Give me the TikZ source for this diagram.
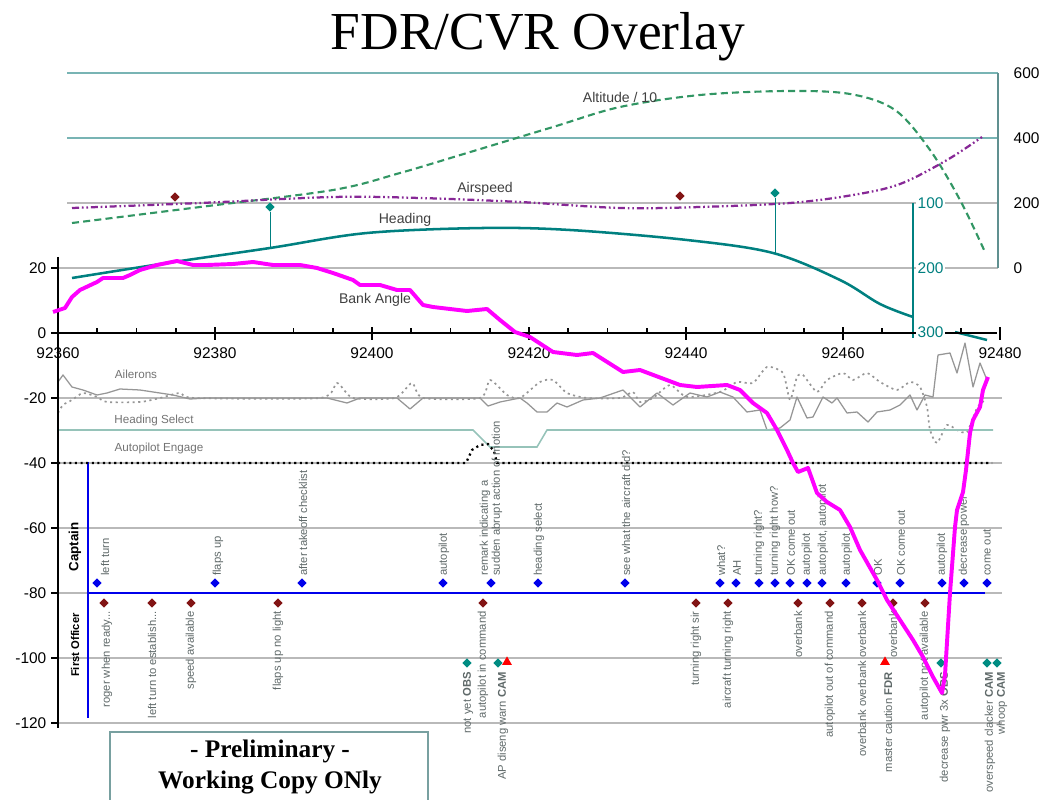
\documentclass[tikz,border=0pt]{standalone}
\usepackage{fontspec}
\setmainfont{Liberation Serif}
\setsansfont{Liberation Sans}
\usetikzlibrary{shapes.geometric}

\definecolor{bankc}{RGB}{255,0,255}
\definecolor{headc}{RGB}{0,128,128}
\definecolor{altc}{RGB}{50,150,100}
\definecolor{spdc}{RGB}{135,40,150}
\definecolor{gridc}{RGB}{185,185,185}
\definecolor{tealgrid}{RGB}{120,180,180}
\definecolor{ailc}{RGB}{150,150,150}
\definecolor{hselc}{RGB}{150,195,185}
\definecolor{cptc}{RGB}{0,0,235}
\definecolor{foc}{RGB}{130,20,20}
\definecolor{obsc}{RGB}{0,140,130}
\definecolor{lblc}{RGB}{95,105,105}
\definecolor{boxc}{RGB}{120,160,160}

\begin{document}
\begin{tikzpicture}[x=0.025cm, y=-0.025cm,
  cpt/.style={diamond, fill=cptc, inner sep=0pt, minimum size=6.8pt},
  fo/.style={diamond, fill=foc, inner sep=0pt, minimum size=6.8pt},
  obs/.style={diamond, fill=obsc, inner sep=0pt, minimum size=6.8pt},
  warn/.style={regular polygon, regular polygon sides=3, fill=red, inner sep=0pt, minimum size=8pt},
  cptlbl/.style={rotate=90, anchor=west, inner sep=0pt, font=\fontsize{8}{8.5}\selectfont\sffamily, text=lblc, align=left},
  folbl/.style={rotate=90, anchor=east, inner sep=0pt, font=\fontsize{8}{8.5}\selectfont\sffamily, text=lblc},
  axlbl/.style={font=\fontsize{11}{12}\selectfont\sffamily, inner sep=1pt},
  serlbl/.style={font=\fontsize{10}{11}\selectfont\sffamily, text=black!75},
  chlbl/.style={font=\fontsize{8.3}{9}\selectfont\sffamily, text=black!55},
  hdglbl/.style={font=\fontsize{11}{12}\selectfont\sffamily, text=headc, fill=white, inner sep=1pt, anchor=west},
  grid/.style={gridc, line width=0.9pt},
  axis/.style={black, line width=1.5pt}]
\useasboundingbox (0,0) rectangle (1045,800);

\path (538,50) node[anchor=base, font=\fontsize{38}{40}\selectfont] (title) {FDR/CVR Overlay};

% upper chart gridlines and right axis
\draw[tealgrid, line width=1.1pt] (67,73) -- (998,73);
\draw[tealgrid, line width=1.1pt] (67,138) -- (998,138);
\draw[grid] (67,203) -- (998,203);
\draw[grid] (58,268) -- (998,268);
\draw[tealgrid!80!black, line width=1.2pt] (998,73) -- (998,268);
\foreach \yy/\v in {73/600, 138/400, 203/200, 268/0}
  \path (1012,\yy) node[axlbl, anchor=west] (r\v) {\v};

% lower chart gridlines
\foreach \yy in {398,463,528,593,658,723}
  \draw[grid] (58,\yy) -- (1002,\yy);
\draw[cptc, line width=1.2pt] (88,462) -- (88,718);
\draw[cptc, line width=1.2pt] (88,593) -- (985,593);

% series in the upper chart
\draw[altc, line width=1.5pt, dash pattern=on 5pt off 3pt] plot[smooth, tension=0.55] coordinates {(72,223) (200,207) (333,190) (400,173) (467,153) (553,127) (620,107) (700,95) (787,91) (850,94) (895,110) (930,150) (960,200) (985,252)};
\draw[spdc, line width=1.6pt, dash pattern=on 5pt off 2pt on 1.2pt off 2pt on 1.2pt off 2pt] plot[smooth, tension=0.55] coordinates {(72,208) (200,203) (333,197) (420,198) (520,202) (620,208) (700,207) (790,203) (853,195) (900,184) (947,160) (982,137)};
\draw[headc, line width=1.8pt] plot[smooth, tension=0.55] coordinates {(72,278) (167,263) (270,248) (367,233) (483,228) (570,230) (687,240) (773,253) (840,280) (880,304) (913,317)};
\draw[headc, line width=1.8pt] plot[smooth] coordinates {(955,332) (967,335) (987,340)};

\path (175,197) node[fo] (spd1) {};
\path (680,196) node[fo] (spd2) {};
\path (270,207) node[obs] (hdg1) {};
\path (775,193) node[obs] (hdg2) {};
\coordinate (hdg1end) at (270,248);
\coordinate (hdg2end) at (775,254);
\draw[headc, line width=0.6pt] (hdg1) -- (hdg1end);
\draw[headc, line width=0.6pt] (hdg2) -- (hdg2end);

\path (620,97) node[serlbl] (altname) {Altitude / 10};
\path (485,189) node[serlbl] (spdname) {Airspeed};
\path (405,220) node[serlbl] (hdgname) {Heading};
\path (375,300) node[serlbl] (bankname) {Bank Angle};

% heading axis
\draw[headc, line width=1.5pt] (913,203) -- (913,338);
\path (916,203) node[hdglbl] (h100) {100};
\path (916,268) node[hdglbl] (h200) {200};

% ailerons, heading select, autopilot engage
\draw[ailc, line width=0.9pt, line join=round] (58,382) -- (63,375) -- (72,387) -- (83,390) -- (97,395) -- (107,393) -- (120,389) -- (140,390) -- (173,395) -- (190,399) -- (207,398) -- (327,398) -- (347,403) -- (360,398) -- (397,398) -- (410,409) -- (423,398) -- (480,398) -- (488,406) -- (500,402) -- (520,398) -- (527,403) -- (537,412) -- (547,412) -- (557,403) -- (567,407) -- (583,400) -- (600,398) -- (623,390) -- (640,407) -- (657,393) -- (673,405) -- (690,393) -- (707,397) -- (720,392) -- (733,397) -- (747,412) -- (760,410) -- (767,430) -- (780,428) -- (790,420) -- (797,397) -- (807,418) -- (813,417) -- (823,397) -- (832,403) -- (837,398) -- (847,413) -- (857,412) -- (868,422) -- (877,412) -- (890,410) -- (900,405) -- (910,395) -- (917,410) -- (925,395) -- (933,397) -- (938,355) -- (950,353) -- (957,373) -- (965,343) -- (973,387) -- (980,363) -- (987,380);
\draw[ailc, line width=1.2pt, dash pattern=on 1.5pt off 2.5pt] plot[smooth, tension=0.4] coordinates {(58,413) (63,405) (72,400) (83,393) (97,397) (107,402) (140,402) (160,398) (180,393) (195,398) (320,398) (337,383) (353,398) (395,398) (412,383) (423,398) (480,398) (490,380) (507,395) (520,398) (540,382) (553,380) (567,393) (587,398) (620,398) (633,392) (640,402) (653,398) (670,385) (687,397) (720,392) (737,382) (753,383) (767,367) (783,373) (790,400) (797,377) (803,375) (817,392) (827,380) (843,373) (853,380) (867,373) (880,382) (897,390) (910,382) (920,387) (927,407) (930,430) (937,443) (947,425) (957,430) (967,432) (977,408) (985,400)};
\draw[hselc, line width=1.1pt] (58,430) -- (473,430) -- (490,447) -- (537,447) -- (547,430) -- (993,430);
\draw[black, line width=1.6pt, dash pattern=on 1.5pt off 2.5pt] (58,463) -- (466,463) -- (472,450) -- (480,445) -- (488,444) -- (494,451) -- (497,463) -- (992,463);
\path (136,374) node[chlbl] (ailname) {Ailerons};
\path (154,420) node[chlbl] (hselname) {Heading Select};
\path (159,448) node[chlbl] (apname) {Autopilot Engage};

% axes
\draw[axis] (58,257) -- (58,728);
\draw[axis] (58,333) -- (997,333);
\foreach \yy/\v in {268/20, 333/0, 398/-20, 463/-40, 528/-60, 593/-80, 658/-100, 723/-120} {
  \draw[axis] (51,\yy) -- (58,\yy);
  \path (48,\yy) node[axlbl, anchor=east] (l\yy) {\v};
}
\foreach \i in {0,...,24}
  \draw[black, line width=1.2pt] (58+\i*39.25,333) -- ++(0,-5);
\foreach \i/\t in {0/92360, 1/92380, 2/92400, 3/92420, 4/92440, 5/92460, 6/92480} {
  \draw[axis] (58+\i*157,327) -- ++(0,13);
  \path (58+\i*157,353) node[axlbl] (x\t) {\t};
}
\path (916,332) node[hdglbl] (h300) {300};

% crew labels
\path (75,547) node[rotate=90, font=\fontsize{9.5}{10}\selectfont\sffamily\bfseries] (captain) {Captain};
\path (75,645) node[rotate=90, font=\fontsize{8}{9}\selectfont\sffamily\bfseries] (firstofficer) {First Officer};

% captain remarks
\path (97,583) node[cpt] (c1) {} (105,576) node[cptlbl] (cl1) {left turn};
\path (215,583) node[cpt] (c2) {} (218,576) node[cptlbl] (cl2) {flaps up};
\path (302,583) node[cpt] (c3) {} (303,576) node[cptlbl] (cl3) {after takeoff checklist};
\path (443,583) node[cpt] (c4) {} (444,576) node[cptlbl] (cl4) {autopilot};
\path (491,583) node[cpt] (c5) {} (491,576) node[cptlbl] (cl5) {remark indicating a\\sudden abrupt action of motion};
\path (538,583) node[cpt] (c6) {} (539,576) node[cptlbl] (cl6) {heading select};
\path (625,583) node[cpt] (c7) {} (626,576) node[cptlbl] (cl7) {see what the aircraft did?};
\path (720,583) node[cpt] (c8) {} (721,576) node[cptlbl] (cl8) {what?};
\path (736,583) node[cpt] (c9) {} (737,576) node[cptlbl] (cl9) {AH};
\path (759,583) node[cpt] (c10) {} (759,576) node[cptlbl] (cl10) {turning right?};
\path (775,583) node[cpt] (c11) {} (775,576) node[cptlbl] (cl11) {turning right how?};
\path (790,583) node[cpt] (c12) {} (791,576) node[cptlbl] (cl12) {OK come out};
\path (807,583) node[cpt] (c13) {} (807,576) node[cptlbl] (cl13) {autopilot};
\path (822,583) node[cpt] (c14) {} (823,576) node[cptlbl] (cl14) {autopilot, autopilot};
\path (846,583) node[cpt] (c15) {} (847,576) node[cptlbl] (cl15) {autopilot};
\path (877,583) node[cpt] (c16) {} (878,576) node[cptlbl] (cl16) {OK};
\path (900,583) node[cpt] (c17) {} (901,576) node[cptlbl] (cl17) {OK come out};
\path (942,583) node[cpt] (c18) {} (942,576) node[cptlbl] (cl18) {autopilot};
\path (964,583) node[cpt] (c19) {} (964,576) node[cptlbl] (cl19) {decrease power};
\path (987,583) node[cpt] (c20) {} (987,576) node[cptlbl] (cl20) {come out};

% first officer remarks
\path (104,603) node[fo] (f1) {} (107,611) node[folbl] (fl1) {roger when ready...};
\path (152,603) node[fo] (f2) {} (152,611) node[folbl] (fl2) {left turn to establish...};
\path (191,603) node[fo] (f3) {} (191,611) node[folbl] (fl3) {speed available};
\path (278,603) node[fo] (f4) {} (278,611) node[folbl] (fl4) {flaps up no light};
\path (483,603) node[fo] (f5) {} (483,611) node[folbl] (fl5) {autopilot in command};
\path (696,603) node[fo] (f6) {} (696,611) node[folbl] (fl6) {turning right sir};
\path (728,603) node[fo] (f7) {} (728,611) node[folbl] (fl7) {aircraft turning right};
\path (798,603) node[fo] (f8) {} (798,611) node[folbl] (fl8) {overbank};
\path (830,603) node[fo] (f9) {} (830,611) node[folbl] (fl9) {autopilot out of command};
\path (862,603) node[fo] (f10) {} (862,611) node[folbl] (fl10) {overbank overbank overbank};
\path (893,603) node[fo] (f11) {} (893,611) node[folbl] (fl11) {overbank};
\path (925,603) node[fo] (f12) {} (925,611) node[folbl] (fl12) {autopilot not available};

% observer, area mic and FDR events
\path (467,663) node[obs] (o1) {} (468,672) node[folbl] (ol1) {not yet \textbf{OBS}};
\path (498,663) node[obs] (o2) {} (503,672) node[folbl] (ol2) {AP diseng warn \textbf{CAM}};
\path (507,662) node[warn] (w1) {};
\path (885,662) node[warn] (w2) {} (888,672) node[folbl] (wl2) {master caution \textbf{FDR}};
\path (941,663) node[obs] (o3) {} (945,672) node[folbl] (ol3) {decrease pwr 3x \textbf{OBS}};
\path (987,663) node[obs] (o4) {} (990,672) node[folbl] (ol4) {overspeed clacker \textbf{CAM}};
\path (997,663) node[obs] (o5) {} (1002,672) node[folbl] (ol5) {whoop \textbf{CAM}};

% bank angle on top
\draw[bankc, line width=2.8pt, line join=round] (53,312) -- (65,308) -- (72,297) -- (80,290) -- (97,282) -- (103,278) -- (123,278) -- (130,275) -- (140,270) -- (157,265) -- (177,261) -- (193,265) -- (207,265) -- (233,264) -- (253,262) -- (273,265) -- (300,265) -- (317,268) -- (333,273) -- (353,280) -- (360,285) -- (380,285) -- (397,290) -- (410,290) -- (423,305) -- (433,307) -- (467,311) -- (487,309) -- (500,320) -- (515,332) -- (530,337) -- (553,352) -- (577,355) -- (593,353) -- (623,372) -- (640,370) -- (680,385) -- (697,387) -- (727,385) -- (740,390) -- (753,403) -- (767,413) -- (777,430) -- (787,450) -- (793,463) -- (798,472) -- (808,468) -- (817,493) -- (827,502) -- (840,510) -- (850,527) -- (860,550) -- (877,580) -- (887,600) -- (900,620) -- (913,640) -- (923,657) -- (933,677) -- (942,693) -- (945,675) -- (950,593) -- (955,527) -- (957,510) -- (963,492) -- (966,470) -- (970,433) -- (973,420) -- (980,407) -- (983,390) -- (988,377);

% preliminary stamp
\draw[boxc, line width=1pt] (110,800) -- (110,732) -- (428,732) -- (428,800);
\path (270,757) node[anchor=base, font=\fontsize{18}{20}\selectfont\bfseries] (prelim) {- Preliminary -};
\path (270,788) node[anchor=base, font=\fontsize{18}{20}\selectfont\bfseries] (workcopy) {Working Copy ONly};
\end{tikzpicture}
\end{document}
